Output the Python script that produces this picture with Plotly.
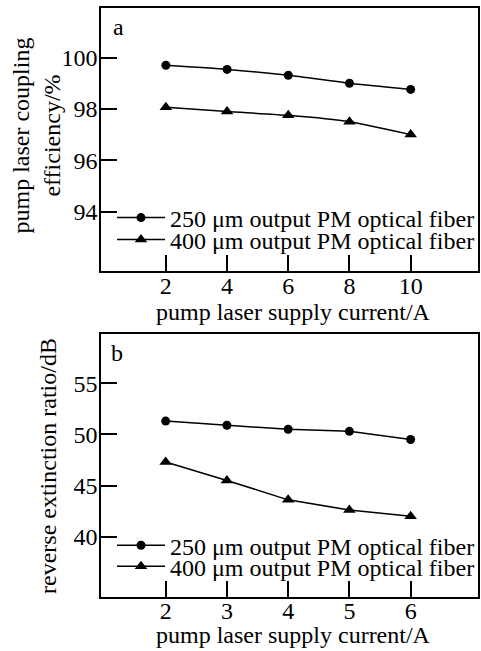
import plotly.graph_objects as go

# ---- data ----
current_a = [2, 4, 6, 8, 10]
eff_250 = [99.70, 99.54, 99.31, 99.00, 98.76]
eff_400 = [98.07, 97.90, 97.75, 97.50, 97.00]

current_b = [2, 3, 4, 5, 6]
ext_250 = [51.3, 50.9, 50.5, 50.3, 49.5]
ext_400 = [47.3, 45.5, 43.6, 42.6, 42.0]

yticks_a = [94, 96, 98, 100]
yticks_b = [40, 45, 50, 55]
name_250 = "250 μm output PM optical fiber"
name_400 = "400 μm output PM optical fiber"
xtitle = "pump laser supply current/A"
ytitle_a = "pump laser coupling<br>efficiency/%"
ytitle_b = "reverse extinction ratio/dB"

FONT = "Liberation Serif"
FS = 24

fig = go.Figure()
ln = dict(color="black", width=1.5)
mc = dict(symbol="circle", color="black", size=9)
mt = dict(symbol="triangle-up", color="black", size=11)

fig.add_trace(go.Scatter(x=current_a, y=eff_250, mode="lines+markers", name=name_250,
                         line=dict(**ln, shape="spline", smoothing=0.6), marker=mc,
                         xaxis="x", yaxis="y", legend="legend"))
fig.add_trace(go.Scatter(x=current_a, y=eff_400, mode="lines+markers", name=name_400,
                         line=dict(**ln, shape="spline", smoothing=0.6), marker=mt,
                         xaxis="x", yaxis="y", legend="legend2"))
fig.add_trace(go.Scatter(x=current_b, y=ext_250, mode="lines+markers", name=name_250,
                         line=ln, marker=mc, xaxis="x2", yaxis="y2", legend="legend3"))
fig.add_trace(go.Scatter(x=current_b, y=ext_400, mode="lines+markers", name=name_400,
                         line=ln, marker=mt, xaxis="x2", yaxis="y2", legend="legend4"))

W, H = 481, 651
xd = [101 / W, 478 / W]
yd_a = [1 - 271 / H, 1 - 8 / H]
yd_b = [1 - 596.7 / H, 1 - 334 / H]

axcommon = dict(showgrid=False, zeroline=False, showline=True, linecolor="black",
                linewidth=1.5, mirror=True, ticks="inside", ticklen=16, tickwidth=1.5,
                tickcolor="black", tickfont=dict(family=FONT, size=FS, color="black"))

leg = dict(font=dict(family=FONT, size=FS, color="black"), bgcolor="rgba(0,0,0,0)",
           itemwidth=48, xanchor="left", yanchor="middle")
LX = 112 / W

def txt(text, x, y, angle=0):
    return dict(text=text, xref="paper", yref="paper", x=x / W, y=1 - y / H,
                showarrow=False, xanchor="center", yanchor="middle", textangle=angle,
                font=dict(family=FONT, size=FS, color="black"))

fig.update_layout(
    width=W, height=H, margin=dict(l=0, r=0, t=0, b=0),
    paper_bgcolor="white", plot_bgcolor="white", showlegend=True,
    font=dict(family=FONT, size=FS, color="black"),
    xaxis=dict(domain=xd, range=[-0.12, 12.2], tickvals=current_a, anchor="y", **axcommon),
    yaxis=dict(domain=yd_a, range=[91.69, 101.93], tickvals=yticks_a, anchor="x", **axcommon),
    xaxis2=dict(domain=xd, range=[0.944, 7.1], tickvals=current_b, anchor="y2", **axcommon),
    yaxis2=dict(domain=yd_b, range=[34.13, 59.82], tickvals=yticks_b, anchor="x2", **axcommon),
    legend=dict(x=LX, y=1 - 218 / H, **leg),
    legend2=dict(x=LX, y=1 - 240 / H, **leg),
    legend3=dict(x=LX, y=1 - 545.7 / H, **leg),
    legend4=dict(x=LX, y=1 - 566.7 / H, **leg),
    annotations=[
        txt("a", 118, 27),
        txt("b", 117, 353),
        txt(ytitle_a, 36, 135.5, -90),
        txt(ytitle_b, 48, 466, -90),
        txt(xtitle, 293, 312),
        txt(xtitle, 293, 635),
    ],
)

try:
    fig.update_xaxes(ticklabelstandoff=-8)
    fig.update_yaxes(ticklabelstandoff=-3)
except Exception:
    pass

fig.write_html("out.html", config={"displayModeBar": False},
               post_script="document.body.style.margin='0';document.body.style.padding='0';")
